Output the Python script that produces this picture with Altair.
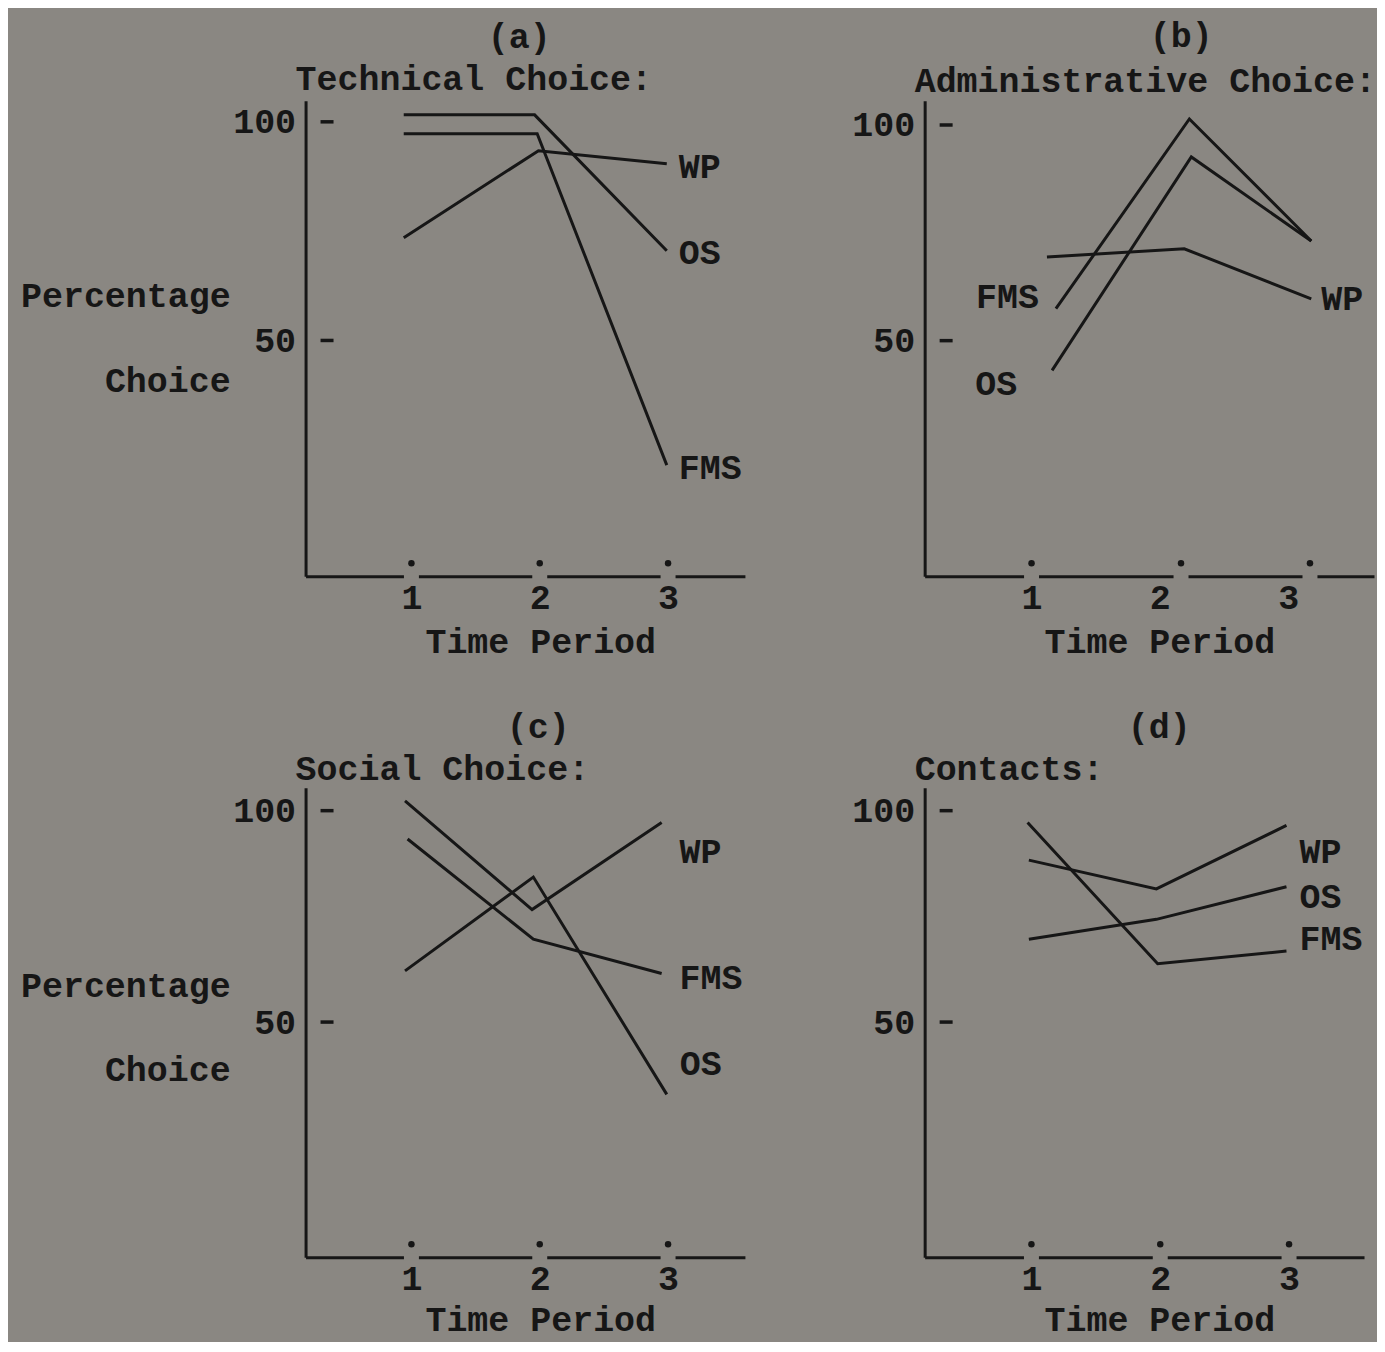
import altair as alt
import pandas as pd

BG = "#8a8782"
INK = "#161616"
FONT = "Liberation Mono"
FS = 35

series = ["WP", "OS", "FMS"]
tick_values = [100, 50]
period_ticks = [1, 2, 3]

# (a) Technical Choice
a_x = {"WP": [0.94, 1.99, 2.99], "OS": [0.94, 1.96, 2.99], "FMS": [0.94, 1.98, 2.99]}
a_y = {"WP": [73.5, 93.4, 90.4], "OS": [101.6, 101.6, 70.5], "FMS": [97.3, 97.3, 21.5]}
a_dots = [1, 2, 3]

# (b) Administrative Choice
b_x = {"WP": [1.12, 2.19, 3.18], "OS": [1.16, 2.245, 3.18], "FMS": [1.19, 2.23, 3.18]}
b_y = {"WP": [69.4, 71.3, 59.7], "OS": [43.1, 92.6, 73.1], "FMS": [57.4, 101.4, 73.1]}
b_dots = [1, 2.165, 3.17]

# (c) Social Choice
c_x = {"WP": [0.95, 1.94, 2.95], "OS": [0.95, 1.95, 2.99], "FMS": [0.97, 1.95, 2.95]}
c_y = {"WP": [102.3, 76.6, 97.2], "OS": [62.1, 84.3, 32.9], "FMS": [93.3, 69.6, 61.5]}
c_dots = [1, 2, 3]

# (d) Contacts
d_x = {"WP": [0.98, 1.97, 2.98], "OS": [0.98, 1.97, 2.98], "FMS": [0.97, 1.98, 2.98]}
d_y = {"WP": [88.3, 81.5, 96.5], "OS": [69.6, 74.3, 82.0], "FMS": [97.2, 63.8, 66.8]}
d_dots = [1, 2, 3]

GAP_SHAPE = "M-1,-0.45L1,-0.45L1,0.45L-1,0.45Z"


def txt(**kw):
    base = dict(font=FONT, fontSize=FS, fontWeight="bold", color=INK, baseline="middle")
    base.update(kw)
    return base


def panel(letter, title, xs, ys, dots, xdom, ydom, width, height, labels,
          letter_x, letter_y, title_y, left_text, xtitle_y, left_y):
    rows = [{"series": s, "i": i, "t": xs[s][i], "v": ys[s][i]}
            for s in series for i in range(3)]
    df = pd.DataFrame(rows)
    x_enc = alt.X("t:Q", scale=alt.Scale(domain=xdom, nice=False, zero=False),
                  axis=alt.Axis(values=period_ticks, format="d", title="Time Period",
                                titleX=235, titleY=xtitle_y, titleAlign="center",
                                titleBaseline="middle", labelPadding=4))
    y_enc = alt.Y("v:Q", scale=alt.Scale(domain=ydom, nice=False, zero=False),
                  axis=alt.Axis(values=tick_values, title=None, labelPadding=10))

    lines = alt.Chart(df).mark_line(color=INK, strokeWidth=3).encode(
        x=x_enc, y=y_enc, detail="series:N", order="i:Q")

    dots_df = pd.DataFrame({"t": dots})
    gaps = alt.Chart(dots_df).mark_point(
        shape=GAP_SHAPE, size=225, filled=True, color=BG, opacity=1, strokeWidth=0
    ).encode(x=x_enc, y=alt.value(height))
    dot_marks = alt.Chart(dots_df).mark_circle(color=INK, size=42, opacity=1).encode(
        x=x_enc, y=alt.value(height - 13))

    ticks = alt.Chart(pd.DataFrame({"v": tick_values})).mark_rule(
        color=INK, strokeWidth=3.5).encode(y=y_enc, x=alt.value(15), x2=alt.value(28))

    layers = [lines, gaps, dot_marks, ticks]
    for s, idx, align, dx, dy in labels:
        layers.append(
            alt.Chart(df).transform_filter(
                f"datum.series == '{s}' && datum.i == {idx}"
            ).mark_text(**txt(align=align, dx=dx, dy=dy)).encode(
                x=x_enc, y=y_enc, text="series:N"))

    layers.append(alt.Chart(pd.DataFrame({"s": [letter]})).mark_text(
        **txt(align="center")).encode(
        x=alt.value(letter_x), y=alt.value(letter_y), text="s:N"))
    layers.append(alt.Chart(pd.DataFrame({"s": [title]})).mark_text(
        **txt(align="left")).encode(
        x=alt.value(-10), y=alt.value(title_y), text="s:N"))
    if left_text:
        layers.append(alt.Chart(pd.DataFrame({"s": ["Percentage"]})).mark_text(
            **txt(align="right")).encode(
            x=alt.value(-75), y=alt.value(left_y[0]), text="s:N"))
        layers.append(alt.Chart(pd.DataFrame({"s": ["Choice"]})).mark_text(
            **txt(align="right")).encode(
            x=alt.value(-75), y=alt.value(left_y[1]), text="s:N"))

    return alt.layer(*layers).properties(width=width, height=height)


pa = panel("(a)", "Technical Choice:", a_x, a_y, a_dots, [0.175, 3.599], [-3.9, 104.8],
           440, 476,
           [("WP", 2, "left", 12, 3), ("OS", 2, "left", 12, 2), ("FMS", 2, "left", 12, 3)],
           214, -64, -22, True, 65, (195, 281))
pb = panel("(b)", "Administrative Choice:", b_x, b_y, b_dots, [0.167, 3.669], [-4.6, 105.6],
           450, 476,
           [("FMS", 0, "right", -17, -12), ("OS", 0, "right", -35, 14), ("WP", 2, "left", 10, 0)],
           257, -65, -20, False, 65, (195, 281))
pc = panel("(c)", "Social Choice:", c_x, c_y, c_dots, [0.175, 3.599], [-5.6, 105.4],
           440, 470,
           [("WP", 2, "left", 18, 30), ("FMS", 2, "left", 18, 5), ("OS", 2, "left", 13, -30)],
           233, -61, -19, True, 62, (198, 283))
pd_ = panel("(d)", "Contacts:", d_x, d_y, d_dots, [0.171, 3.582], [-5.6, 105.4],
            440, 470,
            [("WP", 2, "left", 13, 27), ("OS", 2, "left", 13, 10), ("FMS", 2, "left", 13, -12)],
            235, -61, -19, False, 62, (198, 283))

chart = alt.concat(
    pa, pb, pc, pd_, columns=2, spacing={"row": 212, "column": 180}, bounds="flush"
).properties(
    background=BG,
    padding={"left": 12, "top": 10, "right": 0, "bottom": 4},
).configure_view(stroke=None).configure_axis(
    grid=False,
    ticks=False,
    tickSize=0,
    domainColor=INK,
    domainWidth=3,
    labelFont=FONT,
    labelFontSize=FS,
    labelFontWeight="bold",
    labelColor=INK,
    titleFont=FONT,
    titleFontSize=FS,
    titleFontWeight="bold",
    titleColor=INK,
    zindex=0,
)

chart.save("out.html", embed_options={"renderer": "svg", "actions": False})
